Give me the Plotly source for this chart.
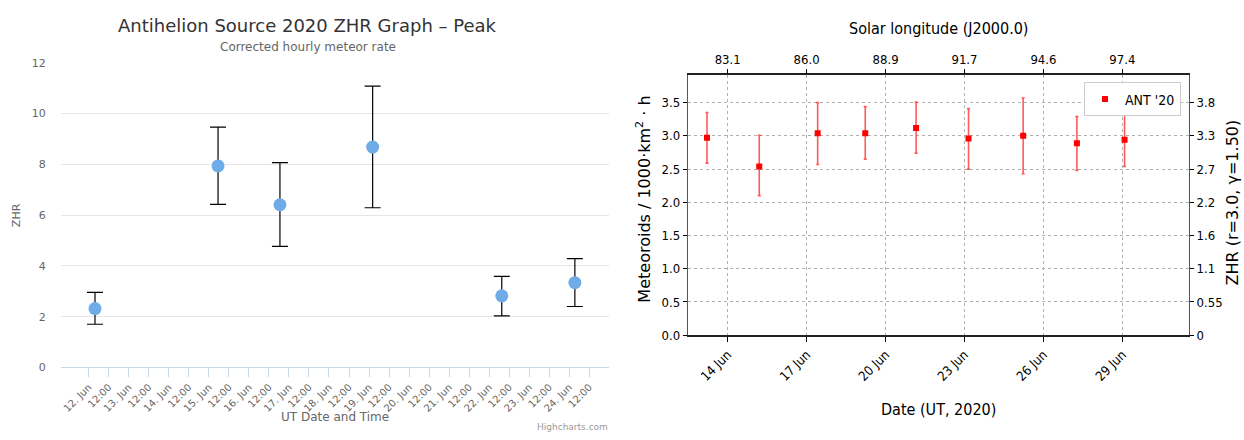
import plotly.graph_objects as go
import pandas as pd

# ---------------- Left chart data (Highcharts ZHR graph) ----------------
left_dates = ["2020-06-12 03:45", "2020-06-15 05:30", "2020-06-16 18:36",
              "2020-06-19 02:10", "2020-06-22 07:33", "2020-06-24 03:22"]
left_zhr = [2.32, 7.94, 6.41, 8.68, 2.82, 3.34]
left_hi = [2.96, 9.47, 8.07, 11.08, 3.59, 4.29]
left_lo = [1.70, 6.42, 4.77, 6.29, 2.03, 2.40]
left_y_ticks = [0, 2, 4, 6, 8, 10, 12]
left_tick_dates = list(pd.date_range("2020-06-12 00:00", "2020-06-24 12:00", freq="12h"))
left_tick_text = [f"{d.day}. Jun" if d.hour == 0 else "12:00" for d in left_tick_dates]

# ---------------- Right chart data (matplotlib meteoroid flux) ----------------
right_dates = ["2020-06-13 05:08", "2020-06-15 04:48", "2020-06-17 10:05",
               "2020-06-19 05:28", "2020-06-21 03:50", "2020-06-23 03:40",
               "2020-06-25 05:30", "2020-06-27 06:30", "2020-06-29 02:00"]
right_rate = [2.97, 2.54, 3.04, 3.04, 3.12, 2.96, 3.00, 2.89, 2.94]
right_hi = [3.35, 3.01, 3.50, 3.44, 3.51, 3.41, 3.57, 3.29, 3.35]
right_lo = [2.59, 2.10, 2.57, 2.65, 2.74, 2.50, 2.43, 2.48, 2.54]
right_tick_dates = ["2020-06-14", "2020-06-17", "2020-06-20", "2020-06-23", "2020-06-26", "2020-06-29"]
right_tick_text = ["14 Jun", "17 Jun", "20 Jun", "23 Jun", "26 Jun", "29 Jun"]
solar_longitudes = ["83.1", "86.0", "88.9", "91.7", "94.6", "97.4"]
right_y_ticks = [0.0, 0.5, 1.0, 1.5, 2.0, 2.5, 3.0, 3.5]
right_y_text = ["0.0", "0.5", "1.0", "1.5", "2.0", "2.5", "3.0", "3.5"]
zhr_tick_text = ["0", "0.55", "1.1", "1.6", "2.2", "2.7", "3.3", "3.8"]

W, H = 1244, 440
def px(x):
    return x / W
def py(y):
    return (H - y) / H

HC_FONT = "DejaVu Sans, Verdana, sans-serif"
MPL_FONT = "DejaVu Sans Condensed, Liberation Sans Narrow, DejaVu Sans, sans-serif"
MPL_FONT_V = "DejaVu Sans, sans-serif"

left_range = ["2020-06-11 07:12", "2020-06-25 00:00"]
right_range = ["2020-06-12 11:49", "2020-07-01 12:45"]
right_yrange = [0, 3.92]

fig = go.Figure()

# Left: ZHR points with error bars
fig.add_trace(go.Scatter(
    x=left_dates, y=left_zhr, mode="markers", name="ZHR",
    marker=dict(color="#6fabe6", size=13, line=dict(width=0)),
    error_y=dict(type="data", symmetric=False,
                 array=[h - v for h, v in zip(left_hi, left_zhr)],
                 arrayminus=[v - l for v, l in zip(left_zhr, left_lo)],
                 color="#000000", thickness=1.2, width=8),
    xaxis="x", yaxis="y", showlegend=False,
))

# Right: meteoroid flux
fig.add_trace(go.Scatter(
    x=right_dates, y=right_rate, mode="markers", name="ANT '20",
    marker=dict(color="#ff0000", size=6, symbol="square"),
    error_y=dict(type="data", symmetric=False,
                 array=[h - v for h, v in zip(right_hi, right_rate)],
                 arrayminus=[v - l for v, l in zip(right_rate, right_lo)],
                 color="rgba(255,0,0,0.65)", thickness=1.6, width=1.5),
    xaxis="x2", yaxis="y2", showlegend=True,
))
# invisible anchors for the secondary (top / right) axes
fig.add_trace(go.Scatter(x=right_range, y=right_yrange, mode="markers",
                         marker=dict(opacity=0), xaxis="x3", yaxis="y2",
                         showlegend=False, hoverinfo="skip"))
fig.add_trace(go.Scatter(x=right_range, y=right_yrange, mode="markers",
                         marker=dict(opacity=0), xaxis="x2", yaxis="y3",
                         showlegend=False, hoverinfo="skip"))

fig.update_layout(
    width=W, height=H,
    margin=dict(l=0, r=0, t=0, b=0),
    paper_bgcolor="white", plot_bgcolor="white",
    showlegend=True,
    legend=dict(x=px(1181), y=py(79), xanchor="right", yanchor="top",
                bgcolor="white", bordercolor="#cccccc", borderwidth=1,
                font=dict(family=MPL_FONT, size=14, color="#000"),
                itemwidth=30),
    xaxis=dict(domain=[px(60.7), px(609.3)], anchor="y", type="date",
               range=left_range, tickvals=left_tick_dates, ticktext=left_tick_text,
               tickangle=-45, ticks="outside", ticklen=9, tickcolor="#ccd6eb",
               showline=True, linecolor="#ccd6eb", linewidth=1, showgrid=False,
               tickfont=dict(family=HC_FONT, size=10, color="#666666")),
    yaxis=dict(domain=[py(373.3), py(58.7)], anchor="x", range=[0, 12],
               tickvals=left_y_ticks, showgrid=True, gridcolor="#e6e6e6",
               zeroline=False, showline=False, ticks="", ticklabelstandoff=14,
               tickfont=dict(family=HC_FONT, size=11, color="#666666")),
    xaxis2=dict(domain=[px(688), px(1189)], anchor="y2", type="date",
                range=right_range, tickvals=right_tick_dates, ticktext=right_tick_text,
                tickangle=-45, ticks="outside", ticklen=5, tickcolor="#000",
                showline=True, mirror=True, linecolor="#222", linewidth=1.6,
                showgrid=True, gridcolor="#b0b0b0", griddash="dot", gridwidth=1,
                tickfont=dict(family=MPL_FONT, size=13, color="#000")),
    yaxis2=dict(domain=[py(340), py(71)], anchor="x2", range=right_yrange,
                tickvals=right_y_ticks, ticktext=right_y_text,
                ticks="outside", ticklen=4, tickcolor="#000",
                showline=True, mirror=True, linecolor="#555", linewidth=1.4,
                showgrid=True, gridcolor="#b0b0b0", griddash="dot", gridwidth=1,
                zeroline=False,
                tickfont=dict(family=MPL_FONT, size=13, color="#000")),
    xaxis3=dict(overlaying="x2", side="top", anchor="y2", type="date",
                range=right_range, tickvals=right_tick_dates, ticktext=solar_longitudes,
                ticks="outside", ticklen=5, tickcolor="#000", showgrid=False,
                showline=False,
                tickfont=dict(family=MPL_FONT, size=13, color="#000")),
    yaxis3=dict(overlaying="y2", side="right", anchor="x2", range=right_yrange,
                tickvals=right_y_ticks, ticktext=zhr_tick_text,
                ticks="outside", ticklen=4, tickcolor="#000", showgrid=False,
                zeroline=False, showline=False,
                tickfont=dict(family=MPL_FONT, size=13, color="#000")),
)

annotations = [
    # left chart texts
    dict(text="Antihelion Source 2020 ZHR Graph – Peak", x=px(307), y=py(20),
         font=dict(family=HC_FONT, size=18, color="#333333")),
    dict(text="Corrected hourly meteor rate", x=px(308), y=py(42),
         font=dict(family=HC_FONT, size=12, color="#666666")),
    dict(text="ZHR", x=px(16), y=py(216), textangle=-90,
         font=dict(family=HC_FONT, size=11, color="#666666")),
    dict(text="UT Date and Time", x=px(335), y=py(424),
         font=dict(family=HC_FONT, size=12, color="#666666")),
    dict(text="Highcharts.com", x=px(610), y=py(435), xanchor="right",
         font=dict(family=HC_FONT, size=9, color="#999999")),
    # right chart texts
    dict(text="Solar longitude (J2000.0)", x=px(938), y=py(23),
         font=dict(family=MPL_FONT, size=16, color="#000")),
    dict(text="Date (UT, 2020)", x=px(938), y=py(417),
         font=dict(family=MPL_FONT, size=16, color="#000")),
    dict(text="Meteoroids / 1000·km<sup>2</sup> · h", x=px(644), y=py(200), textangle=-90,
         font=dict(family=MPL_FONT_V, size=16, color="#000")),
    dict(text="ZHR (r=3.0, γ=1.50)", x=px(1233), y=py(203), textangle=-90,
         font=dict(family=MPL_FONT_V, size=16, color="#000")),
]
for a in annotations:
    a.update(xref="paper", yref="paper", showarrow=False)
    a.setdefault("xanchor", "center")
    a.setdefault("yanchor", "middle")
fig.update_layout(annotations=annotations)

fig.write_html("out.html", config={"displayModeBar": False},
               post_script="document.body.style.margin='0px';"
                           "document.body.style.overflow='hidden';")
